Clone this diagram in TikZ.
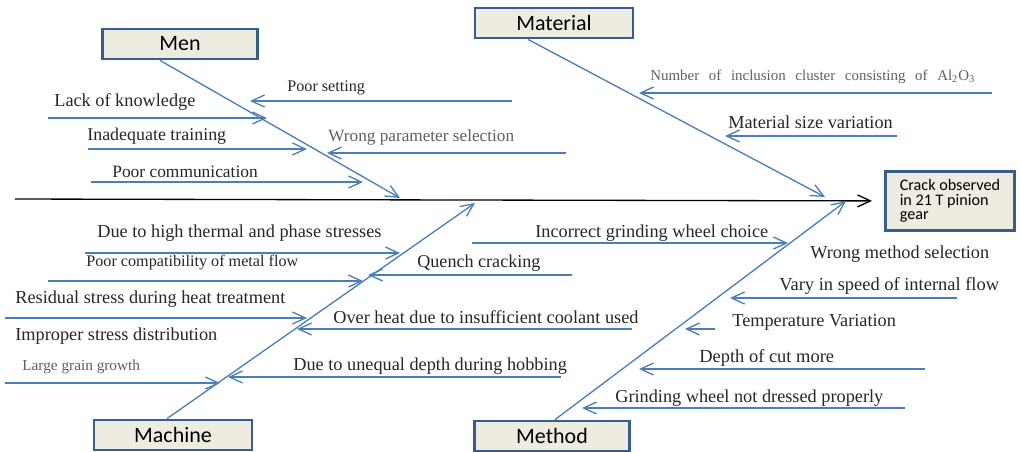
\documentclass[tikz,border=0pt]{standalone}
\usepackage{fontspec}
\setmainfont{Liberation Serif}
\newfontfamily\boxfont{Carlito}
\usetikzlibrary{arrows.meta}
\definecolor{boneblue}{HTML}{4A7EBB}
\definecolor{boxline}{HTML}{385D8A}
\definecolor{boxfill}{HTML}{EEECE1}
\definecolor{labeltext}{HTML}{262626}
\definecolor{lighttext}{HTML}{5F5F5F}

\begin{document}
\begin{tikzpicture}[x=0.02cm,y=-0.02cm,
  catbox/.style={draw=boxline,fill=boxfill,line width=1.6pt,minimum width=3.1cm,minimum height=0.6cm,inner sep=0pt,font=\boxfont\fontsize{12.5}{14}\selectfont},
  cause/.style={anchor=west,inner sep=0pt,text=labeltext,font=\fontsize{10.4}{12}\selectfont},
  bone/.style={draw=boneblue,line width=0.75pt,-{Straight Barb[length=2.6mm,width=2.4mm]}},
  spine/.style={draw=black,line width=0.75pt,-{Straight Barb[length=2.6mm,width=2.4mm]}}]
\useasboundingbox (0,0) rectangle (1020,451);

\node[catbox] (men) at (180,44) {Men};
\node[catbox,minimum width=3.16cm] (material) at (554,23) {Material};
\node[catbox,minimum width=3.16cm] (machine) at (173,435) {Machine};
\node[catbox] (method) at (552,436) {Method};
\node[catbox,anchor=north west,minimum width=2.58cm,minimum height=1.18cm,align=left,font=\boxfont\fontsize{9.2}{8.4}\selectfont] (effect) at (884,170) {Crack observed\\in 21 T pinion\\gear};

\coordinate (spinetail) at (15,199);
\coordinate (menhead) at (400,198);
\coordinate (materialhead) at (825,197);
\coordinate (machinehead) at (475,203);
\coordinate (methodhead) at (846,201);

\draw[spine] (spinetail) -- ([xshift=-0.24cm]effect.west);
\draw[bone] ([xshift=-0.4cm]men.south) -- (menhead);
\draw[bone] ([xshift=-0.52cm]material.south) -- (materialhead);
\draw[bone] ([xshift=-0.12cm]machine.north) -- (machinehead);
\draw[bone] ([xshift=0.06cm]method.north) -- (methodhead);

\node[cause,font=\fontsize{9.2}{11}\selectfont] (setting) at (287,88) {Poor setting};
\node[cause] (knowledge) at (54,102) {Lack of knowledge};
\node[cause,font=\fontsize{10.2}{12}\selectfont] (training) at (87,136) {Inadequate training};
\node[cause,text=lighttext,font=\fontsize{9.8}{12}\selectfont] (parameter) at (328,137) {Wrong parameter selection};
\node[cause,font=\fontsize{9.9}{12}\selectfont] (communication) at (112,172) {Poor communication};

\coordinate (settingfrom) at (512,101);
\coordinate (settingto) at (250,101);
\coordinate (knowledgefrom) at (48,118);
\coordinate (knowledgeto) at (267,118);
\coordinate (trainingfrom) at (88,149);
\coordinate (trainingto) at (307,149);
\coordinate (parameterfrom) at (566,153);
\coordinate (parameterto) at (327,153);
\coordinate (communicationfrom) at (91,182);
\coordinate (communicationto) at (363,182);
\draw[bone] (settingfrom) -- (settingto);
\draw[bone] (knowledgefrom) -- (knowledgeto);
\draw[bone] (trainingfrom) -- (trainingto);
\draw[bone] (parameterfrom) -- (parameterto);
\draw[bone] (communicationfrom) -- (communicationto);

\node[cause,text=lighttext,font=\fontsize{8.5}{10}\selectfont] (inclusion) at (650,77) {\spaceskip=5.5pt\relax Number of inclusion cluster consisting of Al\textsubscript{2}O\textsubscript{3}};
\node[cause] (size) at (728,122) {Material size variation};

\coordinate (inclusionfrom) at (992,93);
\coordinate (inclusionto) at (639,93);
\coordinate (sizefrom) at (897,136);
\coordinate (sizeto) at (725,136);
\draw[bone] (inclusionfrom) -- (inclusionto);
\draw[bone] (sizefrom) -- (sizeto);

\node[cause] (thermal) at (97,233) {Due to high thermal and phase stresses};
\node[cause,font=\fontsize{9.2}{11}\selectfont] (metalflow) at (86,263) {Poor compatibility of metal flow};
\node[cause,font=\fontsize{10.3}{12}\selectfont] (quench) at (417,263) {Quench cracking};
\node[cause] (residual) at (15,299) {Residual stress during heat treatment};
\node[cause] (overheat) at (333,317) {Over heat due to insufficient coolant used};
\node[cause] (improper) at (15,336) {Improper stress distribution};
\node[cause,text=lighttext,font=\fontsize{8.7}{10}\selectfont] (grain) at (22,367) {Large grain growth};
\node[cause] (hobbing) at (293,366) {Due to unequal depth during hobbing};

\coordinate (thermalfrom) at (85,253);
\coordinate (thermalto) at (400,253);
\coordinate (metalflowfrom) at (48,281);
\coordinate (metalflowto) at (363,281);
\coordinate (quenchfrom) at (572,275);
\coordinate (quenchto) at (368,275);
\coordinate (residualfrom) at (5,318);
\coordinate (residualto) at (307,318);
\coordinate (overheatfrom) at (632,329);
\coordinate (overheatto) at (297,329);
\coordinate (grainfrom) at (5,383);
\coordinate (grainto) at (220,383);
\coordinate (hobbingfrom) at (561,377);
\coordinate (hobbingto) at (228,377);
\draw[bone] (thermalfrom) -- (thermalto);
\draw[bone] (metalflowfrom) -- (metalflowto);
\draw[bone] (quenchfrom) -- (quenchto);
\draw[bone] (residualfrom) -- (residualto);
\draw[bone] (overheatfrom) -- (overheatto);
\draw[bone] (grainfrom) -- (grainto);
\draw[bone] (hobbingfrom) -- (hobbingto);

\node[cause] (wheelchoice) at (535,233) {Incorrect grinding wheel choice};
\node[cause] (wrongmethod) at (810,254) {Wrong method selection};
\node[cause,font=\fontsize{10.5}{12}\selectfont] (speed) at (779,286) {Vary in speed of internal\ flow};
\node[cause] (temperature) at (732,322) {Temperature Variation};
\node[cause,font=\fontsize{10.5}{12}\selectfont] (depth) at (699,358) {Depth of cut more};
\node[cause] (dressed) at (615,398) {Grinding wheel not dressed properly};

\coordinate (wheelchoicefrom) at (472,243);
\coordinate (wheelchoiceto) at (788,243);
\coordinate (speedfrom) at (957,298);
\coordinate (speedto) at (730,298);
\coordinate (temperaturefrom) at (715,329);
\coordinate (temperatureto) at (685,329);
\coordinate (depthfrom) at (925,369);
\coordinate (depthto) at (639,369);
\coordinate (dressedfrom) at (905,408);
\coordinate (dressedto) at (582,408);
\draw[bone] (wheelchoicefrom) -- (wheelchoiceto);
\draw[bone] (speedfrom) -- (speedto);
\draw[bone] (temperaturefrom) -- (temperatureto);
\draw[bone] (depthfrom) -- (depthto);
\draw[bone] (dressedfrom) -- (dressedto);
\end{tikzpicture}
\end{document}
